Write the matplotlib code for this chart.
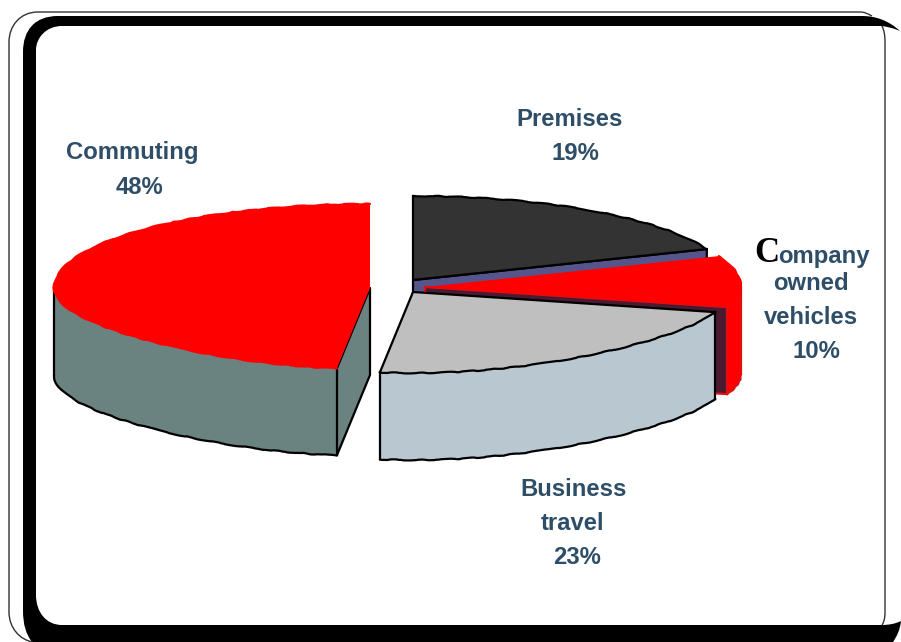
import matplotlib
matplotlib.use('Agg')
import matplotlib.pyplot as plt
import numpy as np
from matplotlib.path import Path
from matplotlib.patches import PathPatch, Polygon

# Udzialy w procentach, zgodnie z ruchem wskazowek od godziny 12
names = ['Premises', 'Company owned vehicles', 'Business travel', 'Commuting']
shares = [19, 10, 23, 48]

# Kolory kolejnych wycinkow
top_colors = ['#333333', '#ff0000', '#bfbfbf', '#ff0000']
rim_colors = ['#333333', '#ff0000', '#b9c7d1', '#6a8280']
wall_colors = ['#55558b', '#4a1a30', '#b9c7d1', '#6a8280']

# Srodki wycinkow po rozsunieciu (piksele)
apex = [(413, 280), (425, 287), (413, 292), (370, 288)]

RX, RY_BACK, RY_FRONT, DEPTH = 316, 84, 81, 87
TEXT = '#2e4e68'


def rim_point(a, c):
    # punkt na elipsie dla kata a (stopnie od godziny 12)
    r = np.radians(a)
    s, k = np.sin(r), np.cos(r)
    squeeze = np.where(k < 0, 1 + 0.2 * k ** 2, 1.0)
    ry = np.where(k > 0, RY_BACK, RY_FRONT)
    return c[0] + RX * s / squeeze, c[1] - ry * k


def arc(a0, a1, c, n=80):
    return rim_point(np.linspace(a0, a1, n), c)


fig = plt.figure(figsize=(9.01, 6.42), dpi=100)
ax = fig.add_axes([0, 0, 1, 1])
ax.set_xlim(0, 901)
ax.set_ylim(642, 0)
ax.axis('off')

# Ramka slajdu
M, C, L, Z = Path.MOVETO, Path.CURVE4, Path.LINETO, Path.CLOSEPOLY
frame = [
    (M, (23, 52)), (C, (23, 30)), (C, (35, 16)), (C, (58, 16)),
    (L, (862, 16)), (C, (875, 16)), (C, (888, 20)), (C, (900, 31)),
    (C, (893, 28)), (C, (888, 27)), (C, (882, 26)),
    (L, (62, 26)), (C, (46, 26)), (C, (36, 38)), (C, (36, 50)),
    (L, (36, 595)), (C, (36, 612)), (C, (46, 625)), (C, (62, 625)),
    (L, (882, 625)), (C, (888, 625)), (C, (895, 624)), (C, (901, 621)),
    (C, (900, 630)), (C, (897, 636)), (C, (893, 642)),
    (L, (32, 642)), (C, (26, 634)), (C, (23, 625)), (C, (23, 610)),
    (Z, (23, 52)),
]
ax.add_patch(PathPatch(Path([p for _, p in frame], [c for c, _ in frame]),
                       fc='black', ec='none', zorder=1))

thin = [
    (M, (872, 16)), (C, (868, 14)), (C, (865, 12)), (C, (860, 12)),
    (L, (38, 12)), (C, (20, 12)), (C, (9, 26)), (C, (9, 42)),
    (L, (9, 612)), (C, (9, 628)), (C, (20, 640)), (C, (33, 642)),
]
ax.add_patch(PathPatch(Path([p for _, p in thin], [c for c, _ in thin]),
                       fc='none', ec='#333333', lw=1.0, zorder=1))
thin_right = [
    (M, (882, 26)), (C, (884, 30)), (C, (885, 35)), (C, (885, 42)),
    (L, (885, 612)), (C, (885, 618)), (C, (884, 622)), (C, (882, 625)),
]
ax.add_patch(PathPatch(Path([p for _, p in thin_right], [c for c, _ in thin_right]),
                       fc='none', ec='#333333', lw=1.0, zorder=1))

# Katy poczatku i konca wycinkow
edges = np.concatenate([[0], np.cumsum(shares)]) * 3.6


def add_poly(x, y, fc, ec, z, lw=1.6):
    ax.add_patch(Polygon(np.column_stack([x, y]), closed=True, fc=fc, ec=ec,
                         lw=lw, joinstyle='round', zorder=z))


def wavy(x, y, color, z, lw=1.6):
    # lekko falista linia obrysu
    line, = ax.plot(x, y, color=color, lw=lw, zorder=z, solid_capstyle='round')
    line.set_sketch_params(0.45, 45, 8)


def draw_slice(i, z, wall_angle, outline='black'):
    a0, a1 = edges[i], edges[i + 1]
    c = apex[i]
    # sciana przy krawedzi wycinka
    if wall_angle is not None:
        ex, ey = rim_point(wall_angle, c)
        add_poly([c[0], ex, ex, c[0]], [c[1], ey, ey + DEPTH, c[1] + DEPTH],
                 wall_colors[i], outline, z)
    # widoczna czesc pobocznicy
    lo, hi = max(a0, 90), min(a1, 270)
    if lo < hi:
        x, y = arc(lo, hi, c)
        add_poly(np.r_[x, x[::-1]], np.r_[y, y[::-1] + DEPTH], rim_colors[i], 'none', z + 0.1)
        ax.plot([x[0], x[0]], [y[0], y[0] + DEPTH], color=outline, lw=1.6, zorder=z + 0.15)
        ax.plot([x[-1], x[-1]], [y[-1], y[-1] + DEPTH], color=outline, lw=1.6, zorder=z + 0.15)
        wavy(x, y + DEPTH, outline, z + 0.15)
    # gorna powierzchnia
    x, y = arc(a0, a1, c)
    is_red = top_colors[i] == '#ff0000'
    add_poly(np.r_[c[0], x], np.r_[c[1], y], top_colors[i], 'none', z + 0.2)
    if is_red:
        wavy(x, y, '#ff0000', z + 0.25)
    else:
        wavy(x, y, 'black', z + 0.25)
        ax.plot([x[0], c[0], x[-1]], [y[0], c[1], y[-1]], color='black', lw=1.6,
                zorder=z + 0.25, solid_joinstyle='round')


# Malowanie od tylu do przodu
draw_slice(0, 2, edges[1])
draw_slice(1, 3, edges[2], outline='#e01010')
draw_slice(3, 4, edges[3])
draw_slice(2, 5, None)

# Podpisy
font = dict(family='Liberation Sans', weight='bold', color=TEXT, fontsize=17.2,
            ha='center', va='center', zorder=10)
ax.text(570, 119, 'Premises', **font)
ax.text(575, 153, f'{shares[0]}%', **font)
ax.text(132, 152, 'Commuting', **font)
ax.text(139, 187, f'{shares[3]}%', **font)
ax.text(574, 489, 'Business', **font)
ax.text(573, 523, 'travel', **font)
ax.text(577, 557, f'{shares[2]}%', **font)
ax.text(767, 254, 'C', family='Liberation Serif', weight='bold', color='black',
        fontsize=25, ha='center', va='center', zorder=10)
ax.text(824, 256, 'ompany', **font)
ax.text(811, 283, 'owned', **font)
ax.text(811, 317, 'vehicles', **font)
ax.text(816, 351, f'{shares[1]}%', **font)

fig.savefig('out.png', dpi=100)
